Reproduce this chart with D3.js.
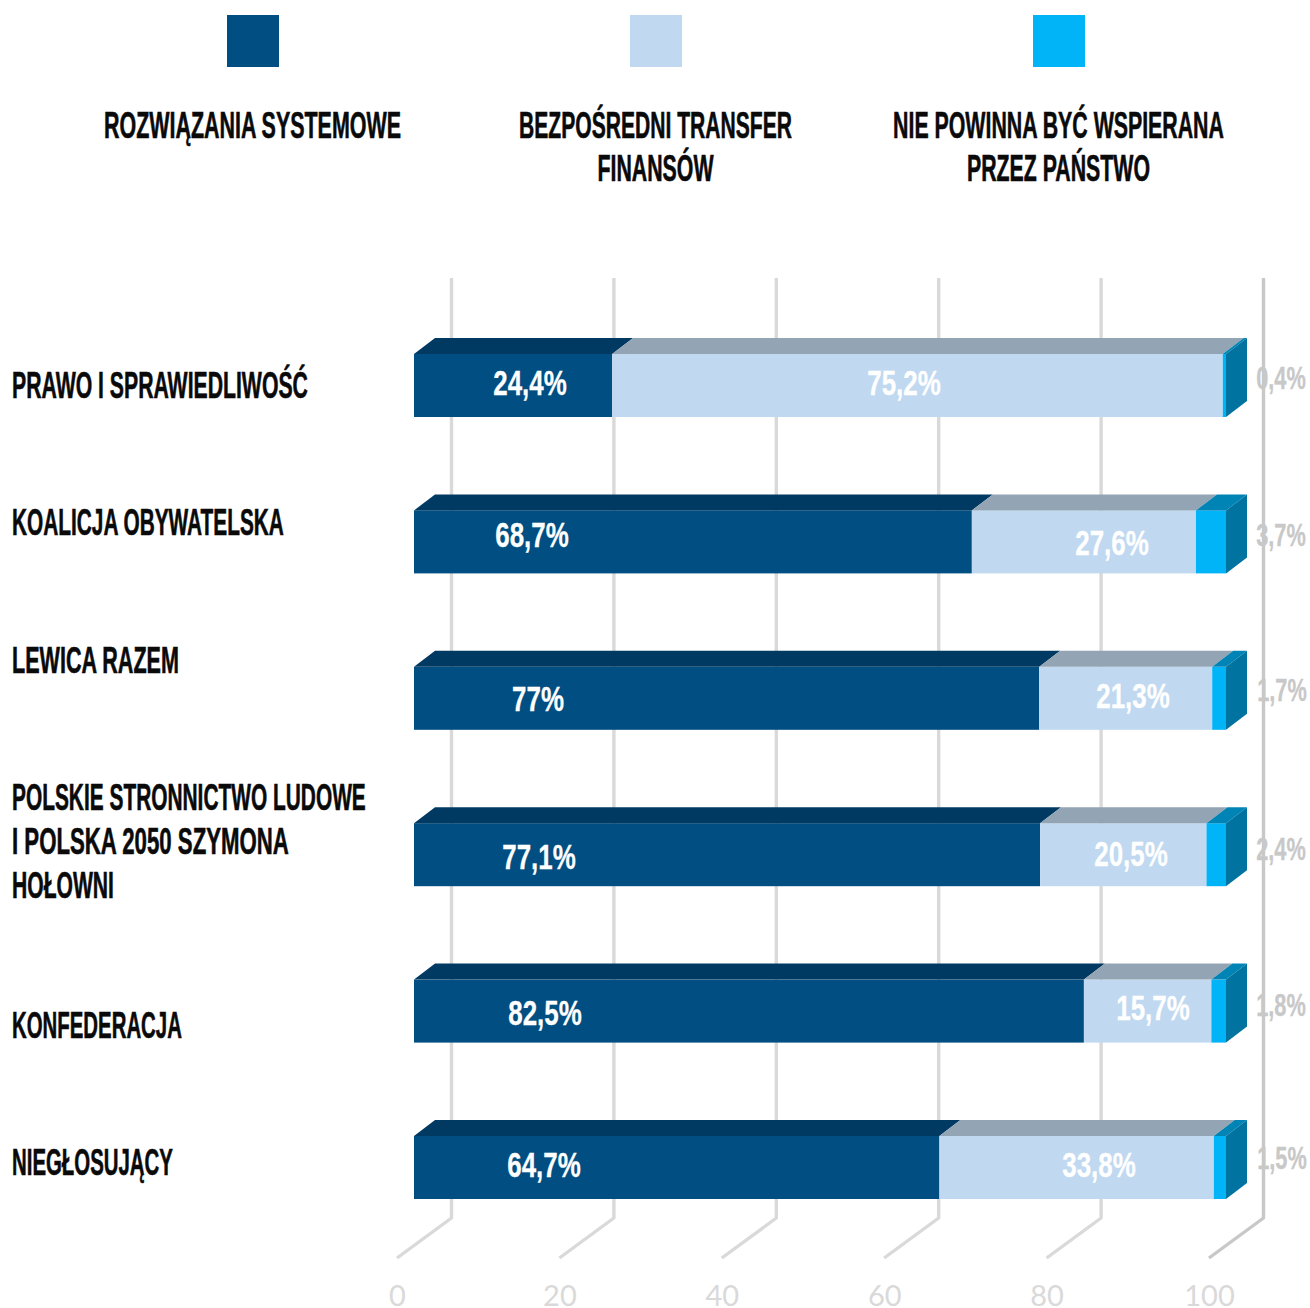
<!DOCTYPE html>
<html><head><meta charset="utf-8">
<script src="https://cdn.jsdelivr.net/npm/d3@7/dist/d3.min.js"></script>
<style>
html,body{margin:0;padding:0;background:#fff}
text{font-family:"Liberation Sans","Arial",sans-serif;font-weight:700}
.tick text{font-family:Lato,sans-serif;font-weight:400}
</style></head><body><div id="chart"></div>
<script>
const categories=["PRAWO I SPRAWIEDLIWOŚĆ","KOALICJA OBYWATELSKA","LEWICA RAZEM","POLSKIE STRONNICTWO LUDOWE|I POLSKA 2050 SZYMONA|HOŁOWNI","KONFEDERACJA","NIEGŁOSUJĄCY"];
const seriesNames=["ROZWIĄZANIA SYSTEMOWE","BEZPOŚREDNI TRANSFER|FINANSÓW","NIE POWINNA BYĆ WSPIERANA|PRZEZ PAŃSTWO"];
const systemowe=[24.4,68.7,77,77.1,82.5,64.7];
const transfer=[75.2,27.6,21.3,20.5,15.7,33.8];
const niePowinna=[0.4,3.7,1.7,2.4,1.8,1.5];
const axisTicks=[0,20,40,60,80,100];

const W=1310,H=1308;
const front=["#004e82","#c0d9f1","#00b4f7"], top_=["#003a62","#93a5b5","#0084b5"], sideCol="#0073a0";
const x=d3.scaleLinear().domain([0,100]).range([414,1226]);
const gridFront=d3.scaleLinear().domain([0,100]).range([397,1209]);
const gridBack=d3.scaleLinear().domain([0,100]).range([451.5,1263.5]);
const bh=63,dx=21,dy=-16;
const rowY=i=>354+i*156.4;

const svg=d3.select("#chart").append("svg").attr("width",W).attr("height",H).style("display","block");

// grid
const g=svg.append("g");
axisTicks.forEach(t=>{
  const c=t===100?"#c8c8c8":"#d9d9d9";
  g.append("polyline").attr("fill","none").attr("stroke",c).attr("stroke-width",3.4)
   .attr("stroke-linejoin","round")
   .attr("points",[[gridBack(t),278],[gridBack(t),1218],[gridFront(t),1258]].join(" "));
});
const ax=svg.append("g").attr("transform","translate(0,1282)")
  .call(d3.axisBottom(gridFront).tickValues(axisTicks).tickSize(0).tickPadding(0));
ax.select(".domain").remove();
ax.selectAll("text").attr("fill","#d9d9d9").attr("font-size",29).attr("dy","0").attr("y",24).attr("x",0);

function label(sel,txt,px,py,anchor,col,size,sx,sw){
  return sel.append("text").attr("transform",`translate(${px},${py}) scale(${sx},1)`)
    .attr("text-anchor",anchor).attr("fill",col).attr("stroke",col).attr("stroke-width",sw)
    .attr("font-size",size).text(txt);
}
// fit a heading line to the width it has in the layout
function fitted(sel,txt,px,py,anchor,size,width,sw){
  const t=label(sel,txt,px,py,anchor,"#0a0a0a",size,1,sw);
  t.attr("transform",`translate(${px},${py}) scale(${width/t.node().getComputedTextLength()},1)`);
  return t;
}

// bars
const rows=categories.map((c,i)=>[systemowe[i],transfer[i],niePowinna[i]]);
rows.forEach((r,i)=>{
  const y0=rowY(i); let acc=0;
  const gr=svg.append("g");
  r.forEach((v,k)=>{
    const a=x(acc), b=x(k===2?100:acc+v); acc+=v;
    gr.append("rect").attr("x",a).attr("y",y0).attr("width",b-a).attr("height",bh).attr("fill",front[k]);
    gr.append("polygon").attr("fill",top_[k]).attr("points",[[a,y0],[a+dx,y0+dy],[b+dx,y0+dy],[b,y0]].join(" "));
  });
  const e=x(100);
  gr.append("polygon").attr("fill",sideCol).attr("points",[[e,y0],[e+dx,y0+dy],[e+dx,y0+bh+dy],[e,y0+bh]].join(" "));
});

// value labels (layout only)
const darkDx=[116,118,124,125,131,130];
const darkBase=[395,547,711,869,1025,1177];
const lightCx=[904,1112,1133,1131,1153,1099], lightBase=[395,555,708,866,1020,1177];
const greyCx=[1281,1281,1282,1281,1281,1282], greyBase=[389,546,701,860,1016,1169];
const fmt=v=>String(v).replace(".",",")+"%";
rows.forEach((r,i)=>{
  label(svg,fmt(r[0]),x(0)+darkDx[i],darkBase[i],"middle","#fff",36,0.72,0.3);
  label(svg,fmt(r[1]),lightCx[i],lightBase[i],"middle","#fff",36,0.72,0.3);
  label(svg,fmt(r[2]),greyCx[i],greyBase[i],"middle","#c8c8c8",32,0.68,0.3);
});

// category labels
const catBase=[[398],[535],[673],[810,854,898],[1038],[1175]];
const catWidth=[[296],[272],[167],[354,277,102],[170],[161]];
const nameSize=36.5,nameSw=0.6;
categories.forEach((c,i)=>c.split("|").forEach((l,j)=>fitted(svg,l,12,catBase[i][j],"start",nameSize,catWidth[i][j],nameSw)));

// legend
const swatchX=[227,630,1033], legendCx=[252.5,655.5,1058.5];
const legendWidth=[[297],[273,116],[331,183]];
seriesNames.forEach((n,k)=>{
  svg.append("rect").attr("x",swatchX[k]).attr("y",15).attr("width",52).attr("height",52).attr("fill",front[k]);
  n.split("|").forEach((l,j)=>fitted(svg,l,legendCx[k],138+j*43,"middle",nameSize,legendWidth[k][j],nameSw));
});
</script></body></html>
